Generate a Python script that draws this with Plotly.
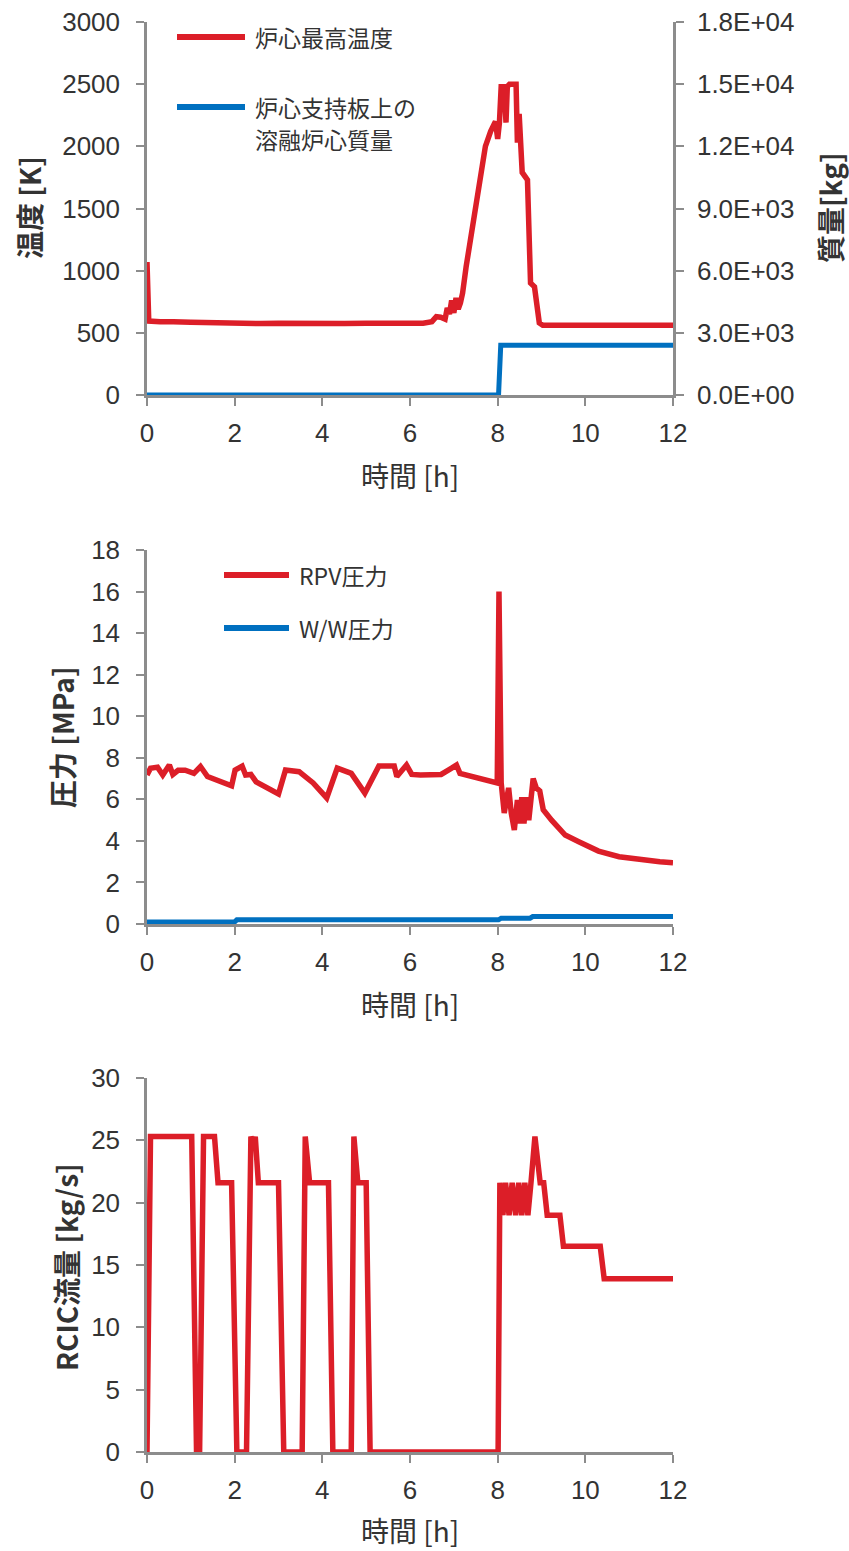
import plotly.graph_objects as go

# ---------------- data ----------------
# core maximum temperature [K]
temp_t = [0, 0.04, 0.3, 0.5, 0.6, 1.0, 1.6, 2.0, 2.2, 2.6, 3.0, 3.5, 4.0, 4.5, 5.0, 5.5,
          6.0, 6.3, 6.5, 6.6, 6.7, 6.8, 6.85, 6.9, 6.95, 7.0, 7.05, 7.1, 7.15, 7.2, 7.28,
          7.4, 7.5, 7.6, 7.72, 7.84, 7.95, 8.0, 8.04, 8.08, 8.15, 8.19, 8.22, 8.27, 8.42,
          8.45, 8.49, 8.56, 8.68, 8.75, 8.84, 8.95, 9.03, 12]
temp_k = [1070, 595, 590, 585, 590, 585, 580, 575, 580, 575, 578, 575, 580, 575, 578, 580,
          575, 578, 590, 630, 625, 610, 700, 650, 760, 660, 780, 690, 740, 820, 1030,
          1290, 1550, 1790, 2000, 2120, 2200, 2060, 2190, 2480, 2480, 2190, 2480, 2500, 2500,
          2030, 2260, 1790, 1730, 900, 870, 580, 560, 560]

# molten core mass on the core support plate [kg]
mass_t = [0, 8.02, 8.07, 12]
mass_kg = [0, 0, 2400, 2400]

# RPV pressure [MPa]
rpv_t = [0, 0.08, 0.24, 0.36, 0.51, 0.59, 0.71, 0.87, 1.07, 1.22, 1.38, 1.58, 1.85, 1.93,
         2.01, 2.17, 2.25, 2.37, 2.49, 2.76, 3.0, 3.16, 3.47, 3.79, 4.1, 4.34, 4.66, 4.97,
         5.29, 5.64, 5.7, 5.92, 6.04, 6.24, 6.71, 6.95, 7.06, 7.14, 7.5, 7.85, 7.99, 8.03,
         8.08, 8.15, 8.25, 8.31, 8.38, 8.45, 8.5, 8.55, 8.6, 8.65, 8.71, 8.81, 8.88, 8.96,
         9.04, 9.23, 9.54, 9.85, 10.0, 10.3, 10.77, 11.23, 11.7, 12]
rpv_mpa = [7.17, 7.5, 7.55, 7.17, 7.65, 7.2, 7.4, 7.4, 7.25, 7.58, 7.1, 6.93, 6.69, 6.65,
           7.41, 7.6, 7.17, 7.2, 6.84, 6.55, 6.26, 7.41, 7.33, 6.79, 6.07, 7.5, 7.25, 6.3,
           7.6, 7.6, 7.1, 7.65, 7.2, 7.17, 7.2, 7.5, 7.65, 7.25, 7.07, 6.84, 6.79, 16.0,
           6.8, 5.34, 6.55, 5.34, 4.52, 5.97, 4.84, 6.1, 4.84, 6.1, 5.0, 7.0, 6.55, 6.4,
           5.5, 5.0, 4.28, 3.96, 3.8, 3.51, 3.24, 3.1, 3.0, 2.95]

# W/W pressure [MPa]
ww_t = [0, 2.0, 2.05, 8.02, 8.08, 8.74, 8.8, 12]
ww_mpa = [0.1, 0.1, 0.2, 0.2, 0.28, 0.28, 0.36, 0.36]

# RCIC flow rate [kg/s]
rcic_t = [0, 0.08, 1.02, 1.13, 1.2, 1.29, 1.54, 1.62, 1.93, 2.05, 2.27, 2.37, 2.43, 2.47,
          2.54, 3.0, 3.12, 3.54, 3.61, 3.71, 4.14, 4.24, 4.66, 4.72, 4.81, 5.0, 5.09, 8.01,
          8.05, 8.12, 8.18, 8.26, 8.33, 8.41, 8.48, 8.55, 8.62, 8.69, 8.76, 8.85,
          8.97, 9.05, 9.13, 9.42, 9.5, 10.34, 10.43, 12]
rcic_kgs = [0, 25.3, 25.3, 0, 0, 25.3, 25.3, 21.6, 21.6, 0, 0, 25.3, 24.6, 25.3,
            21.6, 21.6, 0, 0, 25.3, 21.6, 21.6, 0, 0, 25.3, 21.6, 21.6, 0, 0,
            21.6, 19.0, 21.6, 19.0, 21.6, 19.0, 21.6, 19.0, 21.6, 19.0, 21.6, 25.3,
            21.6, 21.6, 19.0, 19.0, 16.5, 16.5, 13.9, 13.9]

# axis ticks
time_ticks = [0, 2, 4, 6, 8, 10, 12]
temp_ticks = [0, 500, 1000, 1500, 2000, 2500, 3000]
mass_ticks = [0, 3000, 6000, 9000, 12000, 15000, 18000]
mass_ticklabels = ["0.0E+00", "3.0E+03", "6.0E+03", "9.0E+03", "1.2E+04", "1.5E+04", "1.8E+04"]
pres_ticks = [0, 2, 4, 6, 8, 10, 12, 14, 16, 18]
flow_ticks = [0, 5, 10, 15, 20, 25, 30]

# ---------------- styling ----------------
W, H = 849, 1551
RED = "#DC1E28"
BLUE = "#0070C0"
GRAY = "#8C8C8C"
TXT = "#333333"
FONT = "Liberation Sans, Arial, Noto Sans CJK JP, sans-serif"
JFONT = "Noto Sans CJK JP, Liberation Sans, sans-serif"


def px_x(x):
    return x / W


def px_y(y):
    return 1 - y / H


X0, X1 = 147, 673
top_dom = [px_y(395), px_y(22)]
mid_dom = [px_y(924), px_y(550)]
bot_dom = [px_y(1452), px_y(1078)]

axis_common = dict(
    showline=True, linecolor=GRAY, linewidth=2.5,
    ticks="outside", tickcolor=GRAY, tickwidth=2, ticklen=8,
    showgrid=False, zeroline=False, automargin=False,
    tickfont=dict(family=FONT, size=26, color=TXT),
    fixedrange=True,
)

fig = go.Figure()

fig.add_trace(go.Scatter(x=temp_t, y=temp_k, mode="lines", xaxis="x", yaxis="y",
                         line=dict(color=RED, width=5.5), name="炉心最高温度"))
fig.add_trace(go.Scatter(x=mass_t, y=mass_kg, mode="lines", xaxis="x", yaxis="y2",
                         line=dict(color=BLUE, width=5), name="溶融炉心質量"))
fig.add_trace(go.Scatter(x=rpv_t, y=rpv_mpa, mode="lines", xaxis="x2", yaxis="y3",
                         line=dict(color=RED, width=5.5), name="RPV圧力"))
fig.add_trace(go.Scatter(x=ww_t, y=ww_mpa, mode="lines", xaxis="x2", yaxis="y3",
                         line=dict(color=BLUE, width=5), name="W/W圧力"))
fig.add_trace(go.Scatter(x=rcic_t, y=rcic_kgs, mode="lines", xaxis="x3", yaxis="y4",
                         line=dict(color=RED, width=5.5), name="RCIC流量"))

xdom = [px_x(X0), px_x(X1)]
fig.update_layout(
    width=W, height=H,
    margin=dict(l=0, r=0, t=0, b=0, pad=0, autoexpand=False),
    paper_bgcolor="white", plot_bgcolor="white",
    showlegend=False,
    xaxis=dict(axis_common, domain=xdom, anchor="y", range=[0, 12],
               tickvals=time_ticks, ticklabelstandoff=5),
    yaxis=dict(axis_common, domain=top_dom, anchor="x", range=[0, 3000],
               tickvals=temp_ticks, ticklabelstandoff=11),
    yaxis2=dict(axis_common, overlaying="y", side="right", anchor="x", range=[0, 18000],
                tickvals=mass_ticks, ticktext=mass_ticklabels, ticklabelstandoff=8),
    xaxis2=dict(axis_common, domain=xdom, anchor="y3", range=[0, 12],
                tickvals=time_ticks, ticklabelstandoff=5),
    yaxis3=dict(axis_common, domain=mid_dom, anchor="x2", range=[0, 18],
                tickvals=pres_ticks, ticklabelstandoff=11),
    xaxis3=dict(axis_common, domain=xdom, anchor="y4", range=[0, 12],
                tickvals=time_ticks, ticklabelstandoff=5),
    yaxis4=dict(axis_common, domain=bot_dom, anchor="x3", range=[0, 30],
                tickvals=flow_ticks, ticklabelstandoff=11),
)

# axis titles
annos = []


def title(text, x, y, angle=0, bold=False, size=28):
    annos.append(dict(
        text=f"<b>{text}</b>" if bold else text,
        x=px_x(x), y=px_y(y), xref="paper", yref="paper",
        xanchor="center", yanchor="middle", showarrow=False, textangle=angle,
        font=dict(family=JFONT, size=size, color=TXT),
    ))


title("温度 [K]", 29, 208, -90, bold=True)
title("質量[kg]", 830, 208, -90, bold=True)
title("時間 [h]", 410, 475)
title("圧力 [MPa]", 62, 737, -90, bold=True)
title("時間 [h]", 410, 1004)
title("RCIC流量 [kg/s]", 66, 1267, -90, bold=True)
title("時間 [h]", 410, 1530)

# legend entries: line swatch + label lines
shapes = []


def legend_item(x0, x1, y, color, lines, step=32):
    shapes.append(dict(type="line", xref="paper", yref="paper",
                       x0=px_x(x0), x1=px_x(x1), y0=px_y(y), y1=px_y(y),
                       line=dict(color=color, width=6)))
    for i, label in enumerate(lines):
        annos.append(dict(text=label, x=px_x(x1 + 8), y=px_y(y + i * step),
                          xref="paper", yref="paper", xanchor="left", yanchor="middle",
                          showarrow=False, align="left",
                          font=dict(family=JFONT, size=23, color=TXT)))


legend_item(177, 245, 37, RED, ["炉心最高温度"])
legend_item(177, 245, 107, BLUE, ["炉心支持板上の", "溶融炉心質量"])
legend_item(224, 289, 575, RED, ["RPV圧力"])
legend_item(224, 289, 628, BLUE, ["W/W圧力"])

fig.update_layout(annotations=annos, shapes=shapes)

fig.write_html("out.html")
